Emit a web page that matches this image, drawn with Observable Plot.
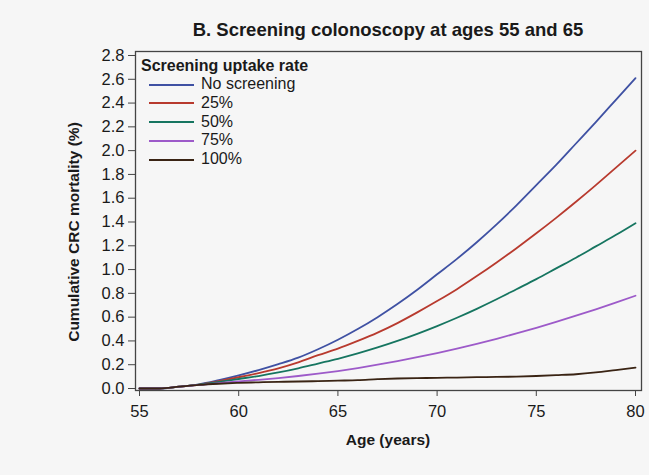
<!DOCTYPE html>
<html>
<head>
<meta charset="utf-8">
<script src="https://cdn.jsdelivr.net/npm/d3@7"></script>
<script src="https://cdn.jsdelivr.net/npm/@observablehq/plot@0.6"></script>
<style>
  html, body { margin: 0; padding: 0; background: #f6f6f6; }
  #wrap { position: relative; width: 649px; height: 475px; font-family: "Liberation Sans", Arial, sans-serif; color: #1a1a1a; }
  #title { position: absolute; left: 135px; width: 506px; top: 19px; text-align: center; font-weight: bold; font-size: 18.5px; white-space: nowrap; }
  #xlabel { position: absolute; left: 135px; width: 506px; top: 431px; text-align: center; font-weight: bold; font-size: 15.5px; }
  #ylabel { position: absolute; left: 74px; top: 232px; transform: translate(-50%, -50%) rotate(-90deg); font-weight: bold; font-size: 15.5px; white-space: nowrap; }
  #legend { position: absolute; left: 141px; top: 57px; font-size: 16px; }
  #legend .lt { font-weight: bold; font-size: 16px; line-height: 18px; }
  #legend .it { position: relative; height: 18.8px; line-height: 18.8px; padding-left: 60px; }
  #legend .sw { position: absolute; left: 8px; top: 8.5px; width: 45px; height: 2px; }
</style>
</head>
<body>
<div id="wrap">
  <div id="chart"></div>
  <div id="title">B. Screening colonoscopy at ages 55 and 65</div>
  <div id="xlabel">Age (years)</div>
  <div id="ylabel">Cumulative CRC mortality (%)</div>
  <div id="legend"></div>
</div>
<script>
const ages = [55,56,57,58,59,60,61,62,63,64,65,66,67,68,69,70,71,72,73,74,75,76,77,78,79,80];
const seriesNames = ["No screening", "25%", "50%", "75%", "100%"];
const seriesColors = ["#3f51a3", "#b83a2e", "#167560", "#9d5ac9", "#3a2414"];
const noScreening = [0,0,0.015,0.035,0.07,0.11,0.155,0.205,0.26,0.33,0.41,0.50,0.60,0.71,0.83,0.96,1.09,1.23,1.38,1.54,1.71,1.88,2.06,2.24,2.425,2.61];
const uptake25   = [0,0,0.015,0.033,0.062,0.095,0.13,0.17,0.22,0.28,0.335,0.40,0.47,0.55,0.64,0.735,0.835,0.945,1.06,1.18,1.305,1.435,1.57,1.71,1.855,2.00];
const uptake50   = [0,0,0.015,0.032,0.055,0.08,0.105,0.135,0.17,0.21,0.25,0.295,0.345,0.40,0.46,0.525,0.595,0.67,0.75,0.835,0.92,1.01,1.10,1.195,1.29,1.39];
const uptake75   = [0,0,0.015,0.03,0.045,0.06,0.073,0.088,0.105,0.125,0.147,0.172,0.20,0.23,0.263,0.298,0.335,0.375,0.418,0.463,0.51,0.56,0.612,0.666,0.722,0.78];
const uptake100  = [0,0,0.015,0.03,0.04,0.047,0.052,0.056,0.059,0.062,0.066,0.07,0.078,0.084,0.087,0.09,0.092,0.095,0.097,0.10,0.105,0.112,0.12,0.135,0.155,0.175];
const yTicks = [0,0.2,0.4,0.6,0.8,1.0,1.2,1.4,1.6,1.8,2.0,2.2,2.4,2.6,2.8];
const xTicks = [55,60,65,70,75,80];

const allSeries = [noScreening, uptake25, uptake50, uptake75, uptake100];
const rows = [];
allSeries.forEach((vals, i) => vals.forEach((v, j) => rows.push({age: ages[j], value: v, series: seriesNames[i]})));

const chart = Plot.plot({
  width: 649,
  height: 475,
  marginLeft: 135,
  marginRight: 8,
  marginTop: 51,
  marginBottom: 85,
  style: { background: "transparent", fontFamily: "Liberation Sans, Arial, sans-serif", fontSize: "16.5px", color: "#1a1a1a" },
  x: { domain: [54.798, 80.302] },
  y: { domain: [-0.0168, 2.8336] },
  color: { domain: seriesNames, range: seriesColors },
  marks: [
    Plot.axisX({ ticks: xTicks, tickSize: 6, tickPadding: 9, label: null, stroke: "#444", fontSize: 16.5 }),
    Plot.axisY({ ticks: yTicks, tickFormat: d => d.toFixed(1), tickSize: 7, tickPadding: 4, label: null, stroke: "#444", fontSize: 16.5 }),
    Plot.line(rows, { x: "age", y: "value", z: "series", stroke: "series", strokeWidth: 1.8, curve: "monotone-x" }),
    Plot.frame({ stroke: "#444", strokeWidth: 1.3 })
  ]
});
document.getElementById("chart").appendChild(chart);

const legend = document.getElementById("legend");
const lt = document.createElement("div");
lt.className = "lt";
lt.textContent = "Screening uptake rate";
legend.appendChild(lt);
seriesNames.forEach((name, i) => {
  const it = document.createElement("div");
  it.className = "it";
  const sw = document.createElement("div");
  sw.className = "sw";
  sw.style.background = seriesColors[i];
  it.appendChild(sw);
  it.appendChild(document.createTextNode(name));
  legend.appendChild(it);
});
</script>
</body>
</html>
